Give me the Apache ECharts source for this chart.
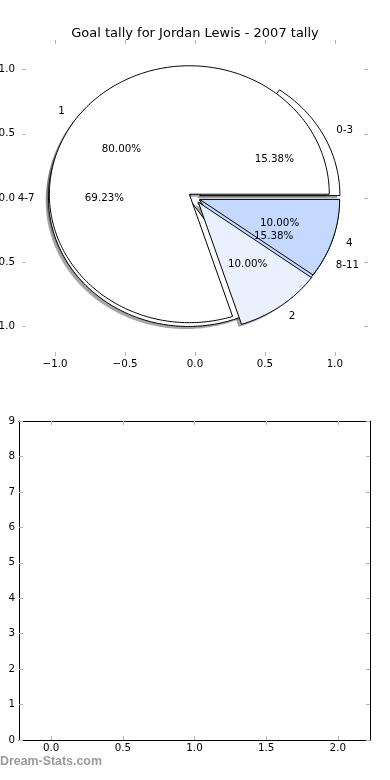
<!DOCTYPE html>
<html>
<head>
<meta charset="utf-8">
<script src="https://cdn.jsdelivr.net/npm/echarts@6/dist/echarts.min.js"></script>
<style>
html,body{margin:0;padding:0;background:#fff;}
#main{width:390px;height:780px;}
</style>
</head>
<body>
<div id="main"></div>
<script>
// ---- data ----
const titleText = 'Goal tally for Jordan Lewis - 2007 tally';
const pieALabels = ['1', '2', '4'];
const pieAValues = [8, 1, 1];
const pieBLabels = ['0-3', '4-7', '8-11'];
const pieBValues = [2, 9, 2];
const pieTicks = [-1.0, -0.5, 0.0, 0.5, 1.0];
const lowerXTicks = [0.0, 0.5, 1.0, 1.5, 2.0];
const lowerYTicks = [0, 1, 2, 3, 4, 5, 6, 7, 8, 9];
const watermark = 'Dream-Stats.com';

// ---- style ----
const explodeA = [0.05, 0.04, 0.035];
const explodeB = [0.04, 0.047, 0.035];
const colorsA = ['#ffffff', '#eaf1fe', '#c5d8fd'];
const colorsB = ['#ffffff', '#ffffff', '#c5d8fd'];
const FONT = "'DejaVu Sans', sans-serif";
const TICK = '#b4b4b4';

function slices(values, explode) {
  const total = values.reduce((a, b) => a + b, 0);
  let acc = 0;
  return values.map((v, i) => {
    const s = acc / total * 2 * Math.PI;
    acc += v;
    const e = acc / total * 2 * Math.PI;
    return { s: s, e: e, m: (s + e) / 2, ex: explode[i], pct: v / total * 100 };
  });
}
const slA = slices(pieAValues, explodeA);
const slB = slices(pieBValues, explodeB);

function shade(hex) {
  const r = parseInt(hex.slice(1, 3), 16), g = parseInt(hex.slice(3, 5), 16), b = parseInt(hex.slice(5, 7), 16);
  return 'rgba(' + Math.round(r * 0.3) + ',' + Math.round(g * 0.3) + ',' + Math.round(b * 0.3) + ',0.5)';
}

function wedgeSeries(values, sl, colors, z, isShadow) {
  return {
    type: 'custom', coordinateSystem: 'cartesian2d', xAxisIndex: 0, yAxisIndex: 0,
    z: z, clip: false, silent: true,
    data: values.map((v, i) => [i, v]),
    renderItem: function (params, api) {
      const w = sl[params.dataIndex];
      const dx = isShadow ? -0.02 : 0, dy = isShadow ? -0.02 : 0;
      const cx = w.ex * Math.cos(w.m) + dx, cy = w.ex * Math.sin(w.m) + dy;
      const pts = [api.coord([cx, cy])];
      const n = Math.max(6, Math.ceil((w.e - w.s) / (Math.PI / 180)));
      for (let k = 0; k <= n; k++) {
        const t = w.s + (w.e - w.s) * k / n;
        pts.push(api.coord([cx + Math.cos(t), cy + Math.sin(t)]));
      }
      const col = colors[params.dataIndex];
      return {
        type: 'polygon', shape: { points: pts },
        style: isShadow ? { fill: shade(col), stroke: null } : { fill: col, stroke: '#000', lineWidth: 1 }
      };
    }
  };
}

function labelSeries(values, labels, sl, z) {
  return {
    type: 'custom', coordinateSystem: 'cartesian2d', xAxisIndex: 0, yAxisIndex: 0,
    z: z, clip: false, silent: true,
    data: values.map((v, i) => [i, v]),
    renderItem: function (params, api) {
      const w = sl[params.dataIndex];
      const rl = 1.1 + w.ex, rp = 0.6 + w.ex;
      const lx = rl * Math.cos(w.m), ly = rl * Math.sin(w.m);
      const pl = api.coord([lx, ly]);
      const pp = api.coord([rp * Math.cos(w.m), rp * Math.sin(w.m)]);
      return {
        type: 'group',
        children: [
          { type: 'text', x: pl[0], y: pl[1], style: { text: labels[params.dataIndex], fill: '#000', font: '10.3px ' + FONT, align: lx > 0 ? 'left' : 'right', verticalAlign: 'middle' } },
          { type: 'text', x: pp[0], y: pp[1], style: { text: w.pct.toFixed(2) + '%', fill: '#000', font: '10.3px ' + FONT, align: 'center', verticalAlign: 'middle' } }
        ]
      };
    }
  };
}

const fmt1 = v => (v < 0 ? '\u2212' : '') + Math.abs(v).toFixed(1);

function tickAxis(grid, pos, min, max, ticks, showLabel, margin, formatter, line) {
  return {
    type: 'value', gridIndex: grid, position: pos, min: min, max: max,
    axisLine: line ? { show: true, onZero: false, lineStyle: { color: '#000', width: 1 } } : { show: false, onZero: false },
    splitLine: { show: false },
    axisTick: { show: true, inside: true, length: 4, customValues: ticks, lineStyle: { color: TICK, width: 1 } },
    axisLabel: { show: showLabel, customValues: ticks, margin: margin, formatter: formatter, color: '#000', fontSize: 10.3, fontFamily: FONT, hideOverlap: false }
  };
}

const chart = echarts.init(document.getElementById('main'), null, { renderer: 'canvas' });
chart.setOption({
  backgroundColor: '#fff',
  animation: false,
  title: { text: titleText, left: 'center', top: 22, textStyle: { fontSize: 13, fontWeight: 'normal', color: '#000', fontFamily: FONT } },
  grid: [
    { left: 22, top: 40, width: 346, height: 316, outerBoundsMode: 'none', containLabel: false },
    { left: 19, top: 421, width: 351, height: 319, outerBoundsMode: 'none', containLabel: false }
  ],
  xAxis: [
    tickAxis(0, 'bottom', -1.236, 1.236, pieTicks, true, 3, fmt1, false),
    tickAxis(0, 'top', -1.236, 1.236, pieTicks, false, 3, fmt1, false),
    tickAxis(1, 'bottom', -0.225, 2.225, lowerXTicks, true, 3, fmt1, true),
    tickAxis(1, 'top', -0.225, 2.225, lowerXTicks, false, 3, fmt1, true)
  ],
  yAxis: [
    tickAxis(0, 'left', -1.23, 1.23, pieTicks, true, 7, fmt1, false),
    tickAxis(0, 'right', -1.23, 1.23, pieTicks, false, 7, fmt1, false),
    tickAxis(1, 'left', 0, 9, lowerYTicks, true, 4, v => String(v), true),
    tickAxis(1, 'right', 0, 9, lowerYTicks, false, 4, v => String(v), true)
  ],
  graphic: [
    { type: 'text', left: 0, top: 756, style: { text: watermark, fill: '#9a9a9a', font: "bold 12.4px 'Liberation Sans', sans-serif" } }
  ],
  series: [
    wedgeSeries(pieBValues, slB, colorsB, 1, true),
    wedgeSeries(pieAValues, slA, colorsA, 1, true),
    wedgeSeries(pieBValues, slB, colorsB, 2, false),
    wedgeSeries(pieAValues, slA, colorsA, 3, false),
    labelSeries(pieBValues, pieBLabels, slB, 4),
    labelSeries(pieAValues, pieALabels, slA, 4),
    { type: 'line', xAxisIndex: 2, yAxisIndex: 2, data: [], silent: true }
  ]
});
</script>
</body>
</html>
